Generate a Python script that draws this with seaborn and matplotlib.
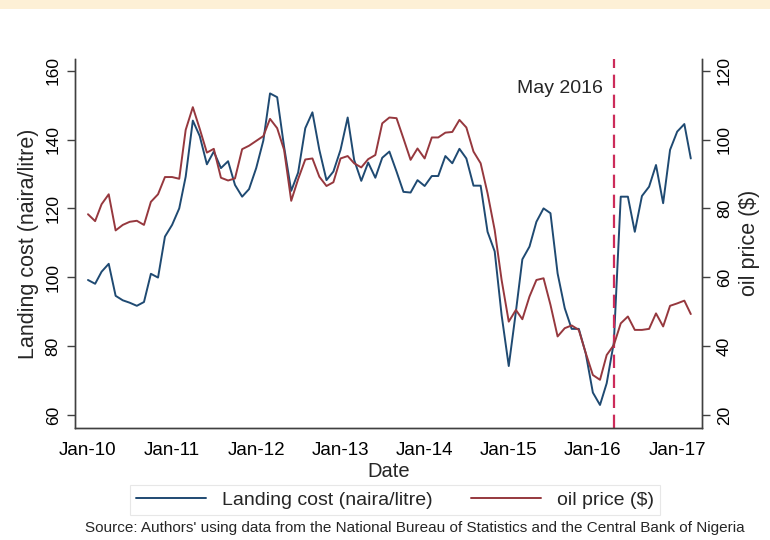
import numpy as np
import pandas as pd
import seaborn as sns
import matplotlib.pyplot as plt
from matplotlib.lines import Line2D
from matplotlib.patches import Rectangle

# Monthly series, Jan 2010 - Mar 2017
landing_cost = [
    99.2, 98.1, 101.6, 103.9, 94.6, 93.3, 92.6, 91.7, 92.8, 101.0, 99.9, 111.8,
    115.2, 120.0, 129.2, 145.5, 141.0, 132.8, 136.5, 131.7, 133.7, 126.8, 123.4, 125.6,
    131.7, 139.7, 153.4, 152.3, 137.9, 125.1, 130.4, 143.3, 147.9, 137.0, 128.2, 130.7,
    137.0, 146.4, 134.1, 128.0, 133.3, 128.9, 134.7, 136.5, 130.7, 124.8, 124.6, 128.2,
    126.5, 129.4, 129.4, 135.2, 133.1, 137.3, 134.5, 126.6, 126.6, 113.2, 107.5, 89.0,
    74.2, 90.0, 105.2, 108.9, 116.1, 120.0, 118.6, 101.1, 91.0, 85.0, 85.0, 77.9,
    66.5, 62.9, 69.2, 81.0, 123.4, 123.4, 113.2, 123.6, 126.3, 132.6, 121.5, 137.0,
    142.3, 144.5, 134.5,
]
oil_price = [
    78.3, 76.3, 81.2, 84.1, 73.6, 75.2, 76.1, 76.4, 75.2, 81.9, 84.1, 89.1,
    89.1, 88.6, 102.8, 109.4, 103.1, 96.2, 97.3, 88.9, 88.1, 88.7, 97.2, 98.2,
    99.6, 101.0, 106.0, 103.3, 97.0, 82.2, 88.5, 94.2, 94.5, 89.2, 86.5, 87.6,
    94.5, 95.2, 93.1, 91.9, 94.3, 95.5, 104.7, 106.4, 106.2, 100.3, 94.1, 97.4,
    94.5, 100.6, 100.6, 102.0, 102.2, 105.7, 103.5, 96.5, 93.1, 84.4, 73.7, 59.2,
    47.1, 50.5, 47.8, 54.4, 59.2, 59.7, 52.0, 42.8, 45.2, 46.0, 44.7, 38.0,
    31.6, 30.2, 37.4, 40.3, 46.6, 48.6, 44.7, 44.7, 45.0, 49.5, 45.7, 51.7,
    52.4, 53.2, 49.3,
]
dates = pd.date_range('2010-01-01', periods=len(landing_cost), freq='MS')
df = pd.DataFrame({'date': dates, 'landing': landing_cost, 'oil': oil_price})

year_ticks = pd.date_range('2010-01-01', '2017-01-01', freq='YS')
year_labels = [d.strftime('Jan-%y') for d in year_ticks]
left_ticks = [60, 80, 100, 120, 140, 160]
right_ticks = [20, 40, 60, 80, 100, 120]
policy_date = pd.Timestamp('2016-04-01')
policy_label = 'May 2016'

navy = '#1f4a72'
maroon = '#96383e'
axis_col = '#404040'

sns.set_style('white')
plt.rcParams['font.family'] = ['Liberation Sans', 'DejaVu Sans']

fig = plt.figure(figsize=(7.7, 5.4), dpi=100)
# thin banner strip at the very top of the screenshot
fig.patches.append(Rectangle((0, 1 - 9 / 540), 1, 9 / 540, transform=fig.transFigure,
                             facecolor='#fdf0d6', edgecolor='none'))
ax = fig.add_axes([0.0978, 0.208, 0.8143, 0.6828])
ax2 = ax.twinx()

sns.lineplot(data=df, x='date', y='landing', ax=ax, color=navy, lw=1.4, legend=False)
sns.lineplot(data=df, x='date', y='oil', ax=ax2, color=maroon, lw=1.4, legend=False)

ax.axvline(policy_date, color='#cc2c5a', lw=1.6, ls=(0, (6, 3)))
ax.annotate(policy_label, xy=(policy_date, 154.7), xytext=(-8, 0),
            textcoords='offset points', ha='right', va='center', fontsize=14)

ax.set_xlim(pd.Timestamp('2009-11-07'), pd.Timestamp('2017-04-20'))
ax.set_ylim(56.3, 163.4)
ax2.set_ylim(16.3, 123.4)

ax.set_xticks(year_ticks)
ax.set_xticklabels(year_labels, fontsize=13.5)
ax.set_yticks(left_ticks)
ax.set_yticklabels(left_ticks, fontsize=12.5, rotation=90, va='center')
ax2.set_yticks(right_ticks)
ax2.set_yticklabels(right_ticks, fontsize=12.5, rotation=90, va='center')

ax.set_xlabel('Date', fontsize=14.5, labelpad=2)
ax.set_ylabel('Landing cost (naira/litre)', fontsize=15.5, labelpad=5)
ax2.set_ylabel('oil price ($)', fontsize=15.5, labelpad=5)

for a in (ax, ax2):
    a.spines['top'].set_visible(False)
    for s in ('left', 'right', 'bottom'):
        a.spines[s].set_color(axis_col)
        a.spines[s].set_linewidth(1.0)
    a.tick_params(colors=axis_col, labelcolor='black', length=5.5, width=1.0, pad=5)
ax.grid(False)
ax2.grid(False)

handles = [Line2D([], [], color=navy, lw=1.4), Line2D([], [], color=maroon, lw=1.4)]
labels = ['Landing cost (naira/litre)', 'oil price ($)']
leg = fig.legend(handles, labels, loc='center', bbox_to_anchor=(0.513, 0.074), ncol=2,
                 frameon=True, fancybox=False, edgecolor='#e2e2e2', fontsize=14,
                 handlelength=3.6, columnspacing=2.0, borderpad=0.3, handletextpad=0.8)
leg.get_frame().set_linewidth(0.8)

fig.text(0.539, 0.022,
         "Source: Authors' using data from the National Bureau of Statistics and the Central Bank of Nigeria",
         ha='center', va='center', fontsize=11)

fig.savefig('out.png', dpi=100)
